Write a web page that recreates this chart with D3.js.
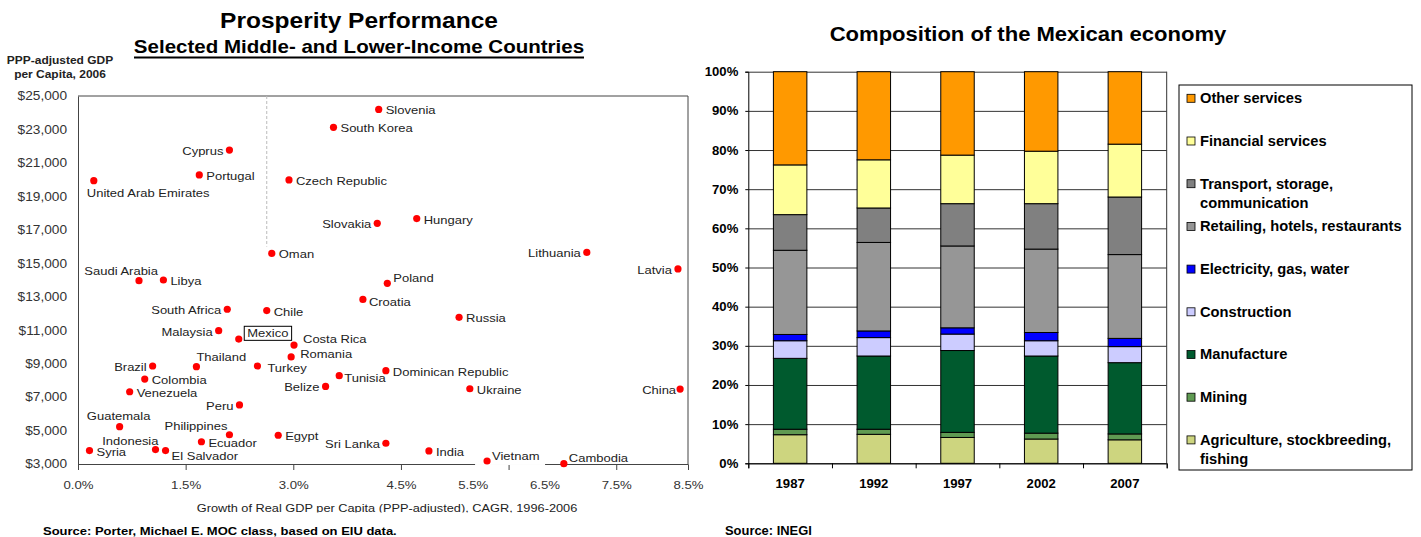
<!DOCTYPE html>
<html>
<head>
<meta charset="utf-8">
<script src="https://cdn.jsdelivr.net/npm/d3@7"></script>
<style>
  body { margin: 0; background: #fff; }
  text { font-family: "Liberation Sans", Arial, sans-serif; }
</style>
</head>
<body>
<svg id="chart" width="1421" height="537"></svg>
<script>
// ---- left chart data: prosperity performance ----
var countries = ["Slovenia", "South Korea", "Cyprus", "Portugal", "United Arab Emirates", "Czech Republic",
  "Slovakia", "Hungary", "Oman", "Lithuania", "Latvia", "Saudi Arabia", "Libya", "Poland", "Croatia",
  "South Africa", "Chile", "Russia", "Malaysia", "Mexico", "Costa Rica", "Romania", "Thailand", "Turkey",
  "Brazil", "Colombia", "Dominican Republic", "Tunisia", "Belize", "Venezuela", "Ukraine", "China", "Peru",
  "Guatemala", "Philippines", "Egypt", "Ecuador", "Sri Lanka", "Indonesia", "El Salvador", "Syria",
  "India", "Vietnam", "Cambodia"];
var growth = [4.19, 3.56, 2.11, 1.69, 0.22, 2.94,
  4.17, 4.72, 2.70, 7.09, 8.36, 0.85, 1.19, 4.31, 3.97,
  2.08, 2.63, 5.31, 1.96, 2.24, 3.01, 2.97, 1.65, 2.50,
  1.04, 0.93, 4.29, 3.64, 3.45, 0.72, 5.46, 8.39, 2.25,
  0.58, 2.11, 2.79, 1.72, 4.29, 1.08, 1.22, 0.16,
  4.89, 5.70, 6.77];
var gdp = [24200, 23130, 21770, 20280, 19940, 19980,
  17390, 17670, 15590, 15650, 14660, 13960, 14000, 13800, 12840,
  12250, 12170, 11770, 10970, 10470, 10110, 9400, 8820, 8860,
  8860, 8080, 8580, 8280, 7640, 7320, 7500, 7480, 6530,
  5230, 4750, 4720, 4330, 4240, 3860, 3800, 3800,
  3780, 3180, 3020];
var avgGrowth = 2.63;
var yTickValues = [3000, 5000, 7000, 9000, 11000, 13000, 15000, 17000, 19000, 21000, 23000, 25000];
var xTickMarks = [0, 1.5, 3.0, 4.5, 6.0, 7.5];
var xTickLabels = [0, 1.5, 3.0, 4.5, 5.5, 6.5, 7.5, 8.5];

// ---- right chart data: composition of the Mexican economy (% of GDP) ----
var years = ["1987", "1992", "1997", "2002", "2007"];
var agriculture  = [7.3, 7.4, 6.6, 6.2, 6.0];
var mining       = [1.4, 1.3, 1.3, 1.5, 1.5];
var manufacture  = [18.1, 18.7, 20.9, 19.7, 18.2];
var construction = [4.5, 4.7, 4.2, 3.9, 4.1];
var electricity  = [1.6, 1.7, 1.6, 2.1, 2.1];
var retailing    = [21.5, 22.6, 20.9, 21.3, 21.4];
var transport    = [9.1, 8.8, 10.8, 11.6, 14.7];
var financial    = [12.7, 12.3, 12.4, 13.4, 13.5];
var otherServ    = [23.8, 22.5, 21.3, 20.3, 18.5];
var sectorNames = ["Agriculture, stockbreeding, fishing", "Mining", "Manufacture", "Construction",
  "Electricity, gas, water", "Retailing, hotels, restaurants", "Transport, storage, communication",
  "Financial services", "Other services"];

var svg = d3.select("#chart");

// stretch text horizontally around its anchor (the picture is a bit widened)
function widen(sel, k) {
  sel.each(function() {
    var x = +(this.getAttribute("x") || 0);
    this.setAttribute("transform", "translate(" + x + ",0) scale(" + k + ",1) translate(" + (-x) + ",0)");
  });
}

// ================= LEFT CHART =================
var left = svg.append("g").attr("class", "left");
var kL = 1.14;

var x = d3.scaleLinear().domain([0, 8.5]).range([78, 688]);
var y = d3.scaleLinear().domain([3000, 25000]).range([464, 96]);

left.append("text").attr("x", 359).attr("y", 28.5).attr("text-anchor", "middle")
  .style("font-size", "21.5px").style("font-weight", "bold").attr("fill", "#000")
  .text("Prosperity Performance");
left.append("text").attr("x", 359).attr("y", 53.3).attr("text-anchor", "middle")
  .style("font-size", "18px").style("font-weight", "bold").attr("fill", "#000")
  .text("Selected Middle- and Lower-Income Countries");
left.append("line").attr("x1", 134).attr("x2", 584).attr("y1", 57.5).attr("y2", 57.5)
  .attr("stroke", "#000").attr("stroke-width", 2);

left.append("text").attr("x", 60).attr("y", 64).attr("text-anchor", "middle")
  .style("font-size", "10.5px").style("font-weight", "bold").attr("fill", "#222")
  .text("PPP-adjusted GDP");
left.append("text").attr("x", 60).attr("y", 78).attr("text-anchor", "middle")
  .style("font-size", "10.5px").style("font-weight", "bold").attr("fill", "#222")
  .text("per Capita, 2006");

// frame top + right
left.append("path")
  .attr("d", "M" + x.range()[0] + "," + y.range()[1] + "H" + x.range()[1] + "V" + y.range()[0])
  .attr("fill", "none").attr("stroke", "#444");

// dashed reference line
left.append("line")
  .attr("x1", x(avgGrowth)).attr("x2", x(avgGrowth))
  .attr("y1", y(25000)).attr("y2", y(16000))
  .attr("stroke", "#bbb").attr("stroke-dasharray", "3,2");

var yAxis = left.append("g").attr("transform", "translate(78,0)")
  .call(d3.axisLeft(y).tickValues(yTickValues).tickFormat(d3.format("$,")).tickSize(0).tickPadding(11));
yAxis.select(".domain").attr("stroke", "#444");
yAxis.selectAll("text").style("font-size", "12px").attr("fill", "#333");

var xAxisMarks = left.append("g").attr("transform", "translate(0,464)")
  .call(d3.axisBottom(x).tickValues(xTickMarks).tickFormat("").tickSize(6));
xAxisMarks.selectAll("line,path").attr("stroke", "#444");

var xAxisLabels = left.append("g").attr("transform", "translate(0,464)")
  .call(d3.axisBottom(x).tickValues(xTickLabels).tickSize(0).tickPadding(17)
    .tickFormat(function(d) { return d3.format(".1f")(d) + "%"; }));
xAxisLabels.select(".domain").remove();
xAxisLabels.selectAll("text").style("font-size", "11.6px").attr("fill", "#333");

left.append("text").attr("x", 387).attr("y", 512).attr("text-anchor", "middle")
  .style("font-size", "11.2px").attr("fill", "#222")
  .text("Growth of Real GDP per Capita (PPP-adjusted),  CAGR, 1996-2006");
left.append("rect").attr("x", 180).attr("y", 512.5).attr("width", 420).attr("height", 8).attr("fill", "#fff");

left.append("text").attr("x", 43).attr("y", 535).style("font-size", "11.4px").style("font-weight", "bold")
  .attr("fill", "#000").text("Source: Porter, Michael E. MOC class, based on EIU data.");

// label placement per country: [anchor, dx, dy]
var R = ["start", 7, 5], L = ["end", -6, 5];
var labelPos = {
  "Cyprus": L, "United Arab Emirates": ["start", -7, 16], "Slovakia": L, "Lithuania": L, "Latvia": L,
  "Saudi Arabia": ["end", 19, -6], "Poland": ["start", 6, -1], "South Africa": L, "Malaysia": L,
  "Mexico": ["start", 8.5, -2], "Costa Rica": ["start", 9, -2], "Romania": ["start", 9, 1],
  "Thailand": ["start", 0, -6], "Turkey": ["start", 10, 6], "Brazil": L, "Belize": L,
  "Tunisia": ["start", 5, 6], "Peru": L, "Guatemala": ["middle", -1, -7], "Philippines": ["end", -2, -5],
  "Indonesia": ["end", 3, -5], "El Salvador": ["start", 6, 9], "Croatia": ["start", 6, 7],
  "China": ["end", -4, 5], "Sri Lanka": L, "Vietnam": ["start", 5, -1], "Cambodia": ["start", 5, -2]
};

var points = countries.map(function(c, i) { return { name: c, g: growth[i], v: gdp[i] }; });

// white patch behind the Vietnam label (it hides the axis in the picture)
var vn = points.filter(function(d) { return d.name === "Vietnam"; })[0];
left.append("rect").attr("x", x(vn.g) - 12).attr("y", y(vn.v) - 12).attr("width", 70).attr("height", 16)
  .attr("fill", "#fff");

var labels = left.append("g").selectAll("text").data(points).enter().append("text")
  .attr("x", function(d) { return x(d.g) + (labelPos[d.name] || R)[1]; })
  .attr("y", function(d) { return y(d.v) + (labelPos[d.name] || R)[2]; })
  .attr("text-anchor", function(d) { return (labelPos[d.name] || R)[0]; })
  .style("font-size", "11.4px").attr("fill", "#222")
  .text(function(d) { return d.name; });

left.append("g").selectAll("circle").data(points).enter().append("circle")
  .attr("cx", function(d) { return x(d.g); })
  .attr("cy", function(d) { return y(d.v); })
  .attr("r", 3.6).attr("fill", "#ff0000");

widen(left.selectAll("text"), kL);

// box around the Mexico label
labels.filter(function(d) { return d.name === "Mexico"; }).each(function() {
  var b = this.getBBox();
  var tx = +this.getAttribute("x");
  left.append("rect").attr("x", tx - 3).attr("y", b.y - 0.5)
    .attr("width", b.width * kL + 6).attr("height", b.height + 1)
    .attr("fill", "none").attr("stroke", "#000").attr("stroke-width", 1);
});

// ================= RIGHT CHART =================
var right = svg.append("g").attr("class", "right");
var kR = 1.05;
var x0 = 748.3, x1 = 1166.7;

var xb = d3.scaleBand().domain(years).range([x0, x1]).paddingInner(0.6).paddingOuter(0.3);
var xEdge = d3.scaleLinear().domain([0, years.length]).range([x0, x1]);
var yb = d3.scaleLinear().domain([0, 100]).range([463.3, 71.7]);

right.append("text").attr("x", 1028).attr("y", 41.5).attr("text-anchor", "middle")
  .style("font-size", "21px").style("font-weight", "bold").attr("fill", "#000")
  .text("Composition of the Mexican economy");

var grid = right.append("g").attr("transform", "translate(" + x0 + ",0)")
  .call(d3.axisLeft(yb).ticks(10).tickSize(-(x1 - x0)).tickFormat(""));
grid.select(".domain").remove();
grid.selectAll("line").attr("stroke", "#333");

right.append("line").attr("x1", x1).attr("x2", x1).attr("y1", yb(100)).attr("y2", yb(0)).attr("stroke", "#333");

var table = years.map(function(yr, i) {
  return {
    year: yr, a: agriculture[i], mi: mining[i], ma: manufacture[i], c: construction[i], e: electricity[i],
    r: retailing[i], t: transport[i], f: financial[i], o: otherServ[i]
  };
});
var keys = ["a", "mi", "ma", "c", "e", "r", "t", "f", "o"];
var colors = ["#cdd57f", "#5f9a52", "#005a2e", "#ccccff", "#0000ff", "#969696", "#808080", "#ffff99", "#ff9900"];
var stack = d3.stack().keys(keys)(table);

right.append("g").selectAll("g").data(stack).enter().append("g")
  .attr("fill", function(d, i) { return colors[i]; })
  .selectAll("rect").data(function(d) { return d; }).enter().append("rect")
  .attr("x", function(d) { return xb(d.data.year); })
  .attr("width", xb.bandwidth())
  .attr("y", function(d) { return yb(d[1]); })
  .attr("height", function(d) { return yb(d[0]) - yb(d[1]); })
  .attr("stroke", "#000").attr("stroke-width", 1);

var yAxisR = right.append("g").attr("transform", "translate(" + x0 + ",0)")
  .call(d3.axisLeft(yb).ticks(10).tickSize(3).tickPadding(7).tickFormat(function(d) { return d + "%"; }));
yAxisR.selectAll("line,path").attr("stroke", "#000");
yAxisR.selectAll("text").style("font-size", "12.5px").style("font-weight", "bold").attr("fill", "#000");

var xEdgeAxis = right.append("g").attr("transform", "translate(0,463.3)")
  .call(d3.axisBottom(xEdge).ticks(years.length).tickFormat("").tickSize(5));
xEdgeAxis.selectAll("line,path").attr("stroke", "#000");

var xAxisR = right.append("g").attr("transform", "translate(0,463.3)")
  .call(d3.axisBottom(xb).tickSize(0).tickPadding(16));
xAxisR.select(".domain").remove();
xAxisR.selectAll("text").style("font-size", "12.5px").style("font-weight", "bold").attr("fill", "#000");

right.append("text").attr("x", 725).attr("y", 535).style("font-size", "12.3px").style("font-weight", "bold")
  .attr("fill", "#000").text("Source: INEGI");

// legend (top to bottom: reverse of the stack)
var legend = right.append("g");
legend.append("rect").attr("x", 1179).attr("y", 85).attr("width", 233).attr("height", 385)
  .attr("fill", "#fff").attr("stroke", "#000");
var legendLines = {
  "Transport, storage, communication": ["Transport, storage,", "communication"],
  "Agriculture, stockbreeding, fishing": ["Agriculture, stockbreeding,", "fishing"]
};
sectorNames.slice().reverse().forEach(function(name, i) {
  var cy = 98.3 + i * 42.7;
  legend.append("rect").attr("x", 1187).attr("y", cy - 4).attr("width", 8).attr("height", 8)
    .attr("fill", colors[colors.length - 1 - i]).attr("stroke", "#000").attr("stroke-width", 0.8);
  var lines = legendLines[name] || [name];
  lines.forEach(function(t, j) {
    legend.append("text").attr("x", 1200).attr("y", cy + 5 + j * 19)
      .style("font-size", "14px").style("font-weight", "bold").attr("fill", "#000").text(t);
  });
});

widen(right.selectAll("text"), kR);
</script>
</body>
</html>
